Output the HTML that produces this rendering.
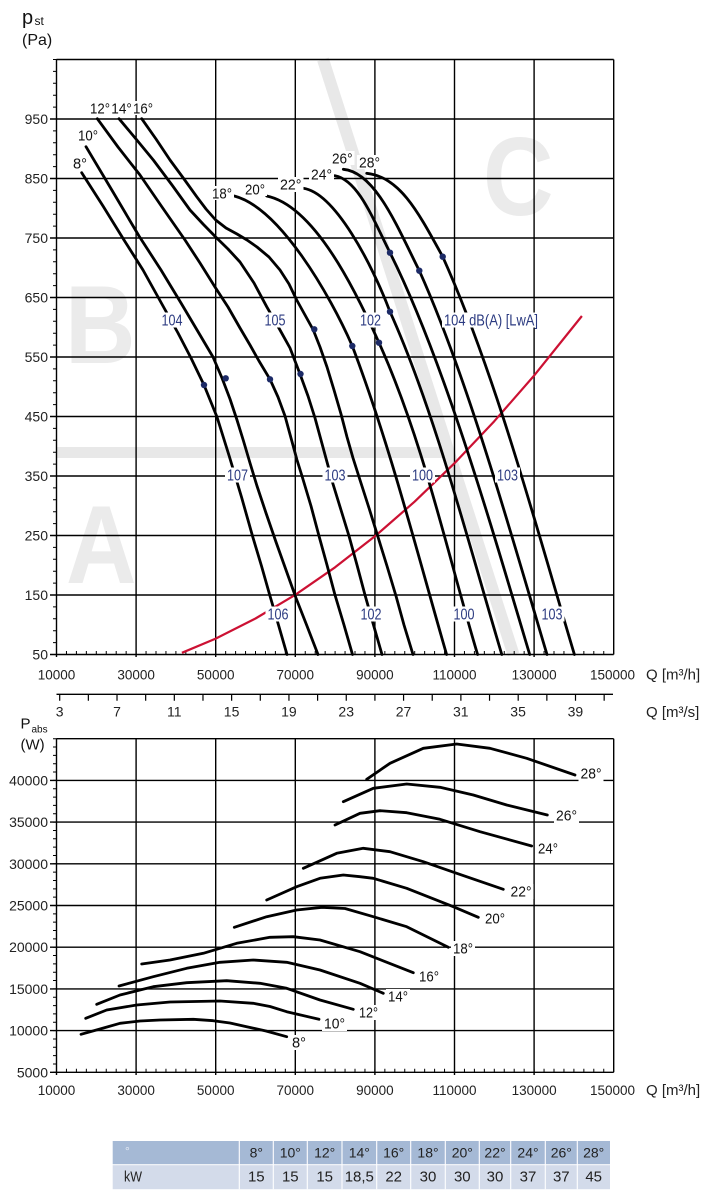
<!DOCTYPE html>
<html><head><meta charset="utf-8">
<style>
html,body{margin:0;padding:0;background:#fff;}
svg{display:block;}
text{font-family:"Liberation Sans",sans-serif;}
</style></head>
<body>
<svg width="716" height="1195" viewBox="0 0 716 1195" xmlns="http://www.w3.org/2000/svg">
<rect x="0" y="0" width="716" height="1195" fill="#fff"/>

<!-- ===== TOP CHART ===== -->
<line x1="323" y1="59.5" x2="513.5" y2="654.5" stroke="#e8e8e8" stroke-width="12"/>
<rect x="56.5" y="447" width="392" height="11" fill="#e8e8e8"/>
<g font-weight="bold" font-size="111" fill="#ebebeb">
<text transform="translate(65,363) scale(0.88,1)">B</text>
<text transform="translate(66,583) scale(0.88,1)">A</text>
<text transform="translate(483,215) scale(0.88,1)">C</text>
</g>

<g stroke="#000" stroke-width="1.4" fill="none">
<path d="M56.5,59.5 V657 M136.1,59.5 V657 M215.7,59.5 V657 M295.3,59.5 V657 M374.9,59.5 V657 M454.5,59.5 V657 M534.1,59.5 V657 M613.7,59.5 V654.5"/>
<path d="M56.5,59.5 H613.7 M50,119 H613.7 M50,178.5 H613.7 M50,238 H613.7 M50,297.5 H613.7 M50,357 H613.7 M50,416.5 H613.7 M50,476 H613.7 M50,535.5 H613.7 M50,595 H613.7 M50,654.5 H613.7"/>
</g>
<path d="M54.75,655 V59" stroke="#000" stroke-width="3.5" stroke-dasharray="1 10.9" fill="none"/>
<path d="M56,652.75 H614" stroke="#000" stroke-width="3.5" stroke-dasharray="1 8.95" fill="none"/>

<path d="M181.9,652.8 L215.7,638.6 L255.5,618.5 L295.3,594.8 L335.1,567.3 L374.9,536.3 L414.7,501.6 L454.5,463.2 L494.3,421.2 L534.1,375.6 L581.9,316" stroke="#cc1133" stroke-width="2.2" fill="none" stroke-linejoin="round"/>

<g stroke="#000" stroke-width="2.8" fill="none" stroke-linejoin="round" stroke-linecap="round">
<path d="M81.7,172.7 L103,206 L124,240 L143,270 L163,306 L178,333 L191,358 L204,385 L217,417 L229.5,457 L241.5,497 L252.5,536 L261.5,566 L270,596 L278.5,625 L287,654.5"/>
<path d="M86,146.7 L113,192 L139,236 L161,270 L181,303 L200,335 L213,357 L222,378 L230,399 L237,420 L243.5,441 L250,463 L257,486 L266,513 L276,542 L286,570 L296,598 L307,626 L318,654.5"/>
<path d="M97.3,118.7 L118,147 L140,175 L162,207 L185,240 L200,263 L215,287 L228,307 L240,328 L250,345 L259,361 L270,379.3 L278,397 L285,416 L291,438 L297,460 L302,476 L311,506 L319,536 L327,565 L335,595 L344,625 L352.5,654.5"/>
<path d="M119,118.7 L136,139 L153.3,160 L172,185 L190,210 L203,224 L215.7,237 L228,249 L240,262 L254,283 L266.7,306.7 L280,330 L290,348 L300,374 L308,396 L315,418 L321,440 L327,462 L333,484 L341,510 L349,536 L357,565 L365,595 L373.5,625 L382,654.5"/>
<path d="M141.7,118.7 L156,139 L170,160 L184,179 L196.7,196.7 L206,209 L215.7,220 L226,228 L237,234 L247,240 L257,247 L269,257 L280,270 L289,284 L296.7,300 L305,315 L313.3,330 L320,347 L327,367 L334,390 L341,414 L347,437 L353,458 L360,480 L369,508 L378,537 L387,566 L396,596 L404,625 L413,654.5"/>
<path d="M234.3,196 C280,208 330,295 352.3,346 C390.3,446 417.6,554.5 446.6,654.5"/>
<path d="M266.7,196 C315,206 356.5,292.7 379,342.7 C424,442.7 447.6,554.5 477.6,654.5"/>
<path d="M303.3,188.3 C335,193 372,264 390,311.7 C435,411.7 468.8,544.5 501.8,654.5"/>
<path d="M335,175.7 C358,180 372.5,217.7 390,252.7 C445,362.7 493.7,534.5 529.7,654.5"/>
<path d="M343.3,169.3 C375,172 396.8,225.7 419.3,270.7 C468.8,380.7 514,544.5 547,654.5"/>
<path d="M366.7,173.3 C400,177 418,211.7 442.7,256.7 C496.7,376.7 538.4,534.5 574.4,654.5"/>
</g>

<g fill="#1c2a66">
<circle cx="204" cy="385" r="3.2"/>
<circle cx="225.7" cy="378.3" r="3.2"/>
<circle cx="270" cy="379.3" r="3.2"/>
<circle cx="300.5" cy="374" r="3.2"/>
<circle cx="314.3" cy="329.3" r="3.2"/>
<circle cx="352.3" cy="346" r="3.2"/>
<circle cx="379" cy="342.7" r="3.2"/>
<circle cx="390" cy="311.7" r="3.2"/>
<circle cx="390" cy="252.7" r="3.2"/>
<circle cx="419.3" cy="270.7" r="3.2"/>
<circle cx="442.7" cy="256.7" r="3.2"/>
</g>

<g fill="#fff">
<rect x="71" y="156" width="18" height="14"/>
<rect x="76" y="128" width="24" height="14"/>
<rect x="88" y="101" width="67" height="14"/>
<rect x="210" y="186" width="24" height="14"/>
<rect x="243" y="182" width="24" height="14"/>
<rect x="278" y="177" width="25.5" height="15"/>
<rect x="309" y="167" width="25" height="15"/>
<rect x="330" y="151" width="24.5" height="14"/>
<rect x="357" y="155" width="25" height="14"/>
</g>
<g font-size="15" fill="#111">
<text x="73" y="168.5" textLength="14" lengthAdjust="spacingAndGlyphs">8°</text>
<text x="78" y="140.5" textLength="20" lengthAdjust="spacingAndGlyphs">10°</text>
<text x="90" y="113.5" textLength="20" lengthAdjust="spacingAndGlyphs">12°</text>
<text x="111.3" y="113.5" textLength="20.5" lengthAdjust="spacingAndGlyphs">14°</text>
<text x="133" y="113.5" textLength="20" lengthAdjust="spacingAndGlyphs">16°</text>
<text x="212" y="198.5" textLength="20" lengthAdjust="spacingAndGlyphs">18°</text>
<text x="245" y="194.5" textLength="20" lengthAdjust="spacingAndGlyphs">20°</text>
<text x="280" y="189.5" textLength="21.5" lengthAdjust="spacingAndGlyphs">22°</text>
<text x="311" y="179.5" textLength="21" lengthAdjust="spacingAndGlyphs">24°</text>
<text x="332" y="163.5" textLength="20.5" lengthAdjust="spacingAndGlyphs">26°</text>
<text x="359" y="167.5" textLength="21" lengthAdjust="spacingAndGlyphs">28°</text>
</g>

<g fill="#fff">
<rect x="159.5" y="312.5" width="25" height="15"/>
<rect x="262.5" y="312.5" width="25" height="15"/>
<rect x="358" y="312.5" width="25" height="15"/>
<rect x="442" y="312.5" width="98" height="15"/>
<rect x="225" y="467.5" width="25" height="15"/>
<rect x="322.5" y="467.5" width="25" height="15"/>
<rect x="410" y="467.5" width="25" height="15"/>
<rect x="495" y="467.5" width="25" height="15"/>
<rect x="265.5" y="606.5" width="25" height="15"/>
<rect x="358.5" y="606.5" width="25" height="15"/>
<rect x="451.5" y="606.5" width="25" height="15"/>
<rect x="539.5" y="606.5" width="25" height="15"/>
</g>
<g font-size="15.5" fill="#2b3a80">
<text x="161.5" y="325.5" textLength="21" lengthAdjust="spacingAndGlyphs">104</text>
<text x="264.5" y="325.5" textLength="21" lengthAdjust="spacingAndGlyphs">105</text>
<text x="360" y="325.5" textLength="21" lengthAdjust="spacingAndGlyphs">102</text>
<text x="444" y="325.5" textLength="94" lengthAdjust="spacingAndGlyphs">104 dB(A) [LwA]</text>
<text x="227" y="480.5" textLength="21" lengthAdjust="spacingAndGlyphs">107</text>
<text x="324.5" y="480.5" textLength="21" lengthAdjust="spacingAndGlyphs">103</text>
<text x="412" y="480.5" textLength="21" lengthAdjust="spacingAndGlyphs">100</text>
<text x="497" y="480.5" textLength="21" lengthAdjust="spacingAndGlyphs">103</text>
<text x="267.5" y="619.5" textLength="21" lengthAdjust="spacingAndGlyphs">106</text>
<text x="360.5" y="619.5" textLength="21" lengthAdjust="spacingAndGlyphs">102</text>
<text x="453.5" y="619.5" textLength="21" lengthAdjust="spacingAndGlyphs">100</text>
<text x="541.5" y="619.5" textLength="21" lengthAdjust="spacingAndGlyphs">103</text>
</g>

<text x="22" y="24" font-size="20" fill="#111">p</text>
<text x="34.5" y="25" font-size="12" fill="#111">st</text>
<text x="22" y="45" font-size="16" fill="#111">(Pa)</text>

<g font-size="14" fill="#222" text-anchor="end">
<text x="48" y="124">950</text>
<text x="48" y="183.5">850</text>
<text x="48" y="243">750</text>
<text x="48" y="302.5">650</text>
<text x="48" y="362">550</text>
<text x="48" y="421.5">450</text>
<text x="48" y="481">350</text>
<text x="48" y="540.5">250</text>
<text x="48" y="600">150</text>
<text x="48" y="659.5">50</text>
</g>
<g font-size="13.5" fill="#222" text-anchor="middle">
<text x="56.5" y="679.5">10000</text>
<text x="136.1" y="679.5">30000</text>
<text x="215.7" y="679.5">50000</text>
<text x="295.3" y="679.5">70000</text>
<text x="374.9" y="679.5">90000</text>
<text x="454.5" y="679.5">110000</text>
<text x="534.1" y="679.5">130000</text>
<text x="612.5" y="679.5">150000</text>
</g>
<text x="646" y="679.5" font-size="15" fill="#222">Q [m³/h]</text>

<path d="M56.5,694.3 H613" stroke="#000" stroke-width="1.4" fill="none"/>
<path d="M59.1,697.5 H606" stroke="#000" stroke-width="6.4" stroke-dasharray="1.2 27.456" fill="none"/>
<g font-size="14" fill="#222" text-anchor="middle">
<text x="59.7" y="716.5">3</text>
<text x="117" y="716.5">7</text>
<text x="174.3" y="716.5">11</text>
<text x="231.6" y="716.5">15</text>
<text x="288.9" y="716.5">19</text>
<text x="346.2" y="716.5">23</text>
<text x="403.5" y="716.5">27</text>
<text x="460.8" y="716.5">31</text>
<text x="518.1" y="716.5">35</text>
<text x="575.4" y="716.5">39</text>
</g>
<text x="646" y="717" font-size="15" fill="#222">Q [m³/s]</text>

<!-- ===== BOTTOM CHART ===== -->
<text x="20.5" y="728.5" font-size="15" fill="#111">P</text>
<text x="31.5" y="732.5" font-size="10" fill="#111">abs</text>
<text x="20.5" y="749.5" font-size="15" fill="#111">(W)</text>

<g stroke="#000" stroke-width="1.4" fill="none">
<path d="M56.5,738.7 V1075 M136.1,738.7 V1075 M215.7,738.7 V1075 M295.3,738.7 V1075 M374.9,738.7 V1075 M454.5,738.7 V1075 M534.1,738.7 V1075 M613.7,738.7 V1072.3"/>
<path d="M56.5,738.7 H613.7 M50,780.4 H613.7 M50,822.1 H613.7 M50,863.8 H613.7 M50,905.5 H613.7 M50,947.2 H613.7 M50,988.9 H613.7 M50,1030.6 H613.7 M50,1072.3 H613.7"/>
</g>
<path d="M54.75,1072.8 V738" stroke="#000" stroke-width="3.5" stroke-dasharray="1 7.34" fill="none"/>
<path d="M56,1070.5 H614" stroke="#000" stroke-width="3.5" stroke-dasharray="1 8.95" fill="none"/>

<g stroke="#000" stroke-width="2.8" fill="none" stroke-linejoin="round" stroke-linecap="round">
<path d="M81,1034.3 L100,1029 L120,1023.3 L140,1021 L160,1020 L193.3,1019.3 L213.3,1020.7 L230,1023 L246.7,1026.7 L266,1031 L286.7,1036.7"/>
<path d="M85.7,1018.3 L106.7,1010 L136.7,1005 L170,1002 L220,1001 L253.3,1003.3 L270,1006.5 L286.7,1011.7 L319,1019.3"/>
<path d="M96.7,1004.3 L120,995 L153.3,986.7 L186.7,982.7 L226.7,980.7 L260,983.3 L286.7,988.3 L320,1000 L353.3,1009.3"/>
<path d="M119,986 L153.3,976.7 L186.7,968.3 L220,962.3 L253.3,960 L286.7,962.3 L320,970 L360,983.3 L383.3,993.3"/>
<path d="M141.7,964 L170,960 L203.3,953.3 L236.7,943.3 L270,937.3 L293.3,936.7 L320,940 L360,951.7 L413.3,972.7"/>
<path d="M234.3,927.3 L266.7,916.7 L296.7,910 L322,907.3 L345,908.5 L373.3,916.7 L406.7,926.7 L448.3,947.3"/>
<path d="M266.7,900 L296.7,886.7 L320,878.3 L343.3,875 L360,876.7 L373.3,878.3 L406.7,888.3 L453.3,906.7 L478.3,917.3"/>
<path d="M303.3,868.3 L336.7,853.3 L363.3,848.3 L390,851.7 L423.3,861.7 L456.7,873.3 L503.3,889.3"/>
<path d="M335,825 L360,813.3 L380,810.7 L406.7,812.7 L440,819.3 L480,831.7 L531.7,846"/>
<path d="M343.3,801.7 L373.3,788.3 L406.7,784 L440,787.3 L473.3,795 L506.7,805 L547.3,815"/>
<path d="M366.7,779.3 L390,763.3 L423.3,748.3 L456.7,744 L490,748.3 L526.7,758.3 L575,775"/>
</g>

<g fill="#fff">
<rect x="290" y="1035" width="18" height="15"/>
<rect x="322" y="1016" width="25" height="15"/>
<rect x="357" y="1005" width="23" height="15"/>
<rect x="386" y="989" width="24" height="15"/>
<rect x="417" y="969" width="24" height="15"/>
<rect x="451" y="941" width="24" height="15"/>
<rect x="483" y="911" width="24" height="15"/>
<rect x="508.5" y="884" width="25" height="15"/>
<rect x="536" y="841" width="24" height="15"/>
<rect x="554" y="808" width="25" height="15"/>
<rect x="578.5" y="766" width="25" height="15.5"/>
</g>
<g font-size="15" fill="#111">
<text x="292" y="1047.5" textLength="14" lengthAdjust="spacingAndGlyphs">8°</text>
<text x="324" y="1028.5" textLength="21" lengthAdjust="spacingAndGlyphs">10°</text>
<text x="359" y="1017.5" textLength="19" lengthAdjust="spacingAndGlyphs">12°</text>
<text x="388" y="1001.5" textLength="20" lengthAdjust="spacingAndGlyphs">14°</text>
<text x="419" y="981.5" textLength="20" lengthAdjust="spacingAndGlyphs">16°</text>
<text x="453" y="953.5" textLength="20" lengthAdjust="spacingAndGlyphs">18°</text>
<text x="485" y="923.5" textLength="20" lengthAdjust="spacingAndGlyphs">20°</text>
<text x="510.5" y="896.5" textLength="21" lengthAdjust="spacingAndGlyphs">22°</text>
<text x="538" y="853.5" textLength="20" lengthAdjust="spacingAndGlyphs">24°</text>
<text x="556" y="820.5" textLength="21" lengthAdjust="spacingAndGlyphs">26°</text>
<text x="580.5" y="778.5" textLength="21" lengthAdjust="spacingAndGlyphs">28°</text>
</g>

<g font-size="14" fill="#222" text-anchor="end">
<text x="48" y="785.4">40000</text>
<text x="48" y="827.1">35000</text>
<text x="48" y="868.8">30000</text>
<text x="48" y="910.5">25000</text>
<text x="48" y="952.2">20000</text>
<text x="48" y="993.9">15000</text>
<text x="48" y="1035.6">10000</text>
<text x="48" y="1077.3">5000</text>
</g>
<g font-size="13.5" fill="#222" text-anchor="middle">
<text x="56.5" y="1095">10000</text>
<text x="136.1" y="1095">30000</text>
<text x="215.7" y="1095">50000</text>
<text x="295.3" y="1095">70000</text>
<text x="374.9" y="1095">90000</text>
<text x="454.5" y="1095">110000</text>
<text x="534.1" y="1095">130000</text>
<text x="612.5" y="1095">150000</text>
</g>
<text x="646" y="1095" font-size="15" fill="#222">Q [m³/h]</text>

<!-- ===== TABLE ===== -->
<rect x="112.7" y="1141" width="497.3" height="23.2" fill="#a5b9d5"/>
<rect x="112.7" y="1165.2" width="497.3" height="24" fill="#d3dbea"/>
<g stroke="#fff" stroke-width="1.1">
<path d="M239.3,1141 V1189.2 M273.3,1141 V1189.2 M307.3,1141 V1189.2 M342,1141 V1189.2 M376.7,1141 V1189.2 M410.7,1141 V1189.2 M445.3,1141 V1189.2 M479.3,1141 V1189.2 M510.7,1141 V1189.2 M545.3,1141 V1189.2 M577.3,1141 V1189.2"/>
</g>
<text x="125" y="1155" font-size="12" fill="#e4eaf3">°</text>
<g font-size="14" fill="#222" text-anchor="middle">
<text x="256.3" y="1157.5">8°</text>
<text x="290.3" y="1157.5">10°</text>
<text x="324.7" y="1157.5">12°</text>
<text x="359.3" y="1157.5">14°</text>
<text x="393.7" y="1157.5">16°</text>
<text x="428" y="1157.5">18°</text>
<text x="462.3" y="1157.5">20°</text>
<text x="495" y="1157.5">22°</text>
<text x="528" y="1157.5">24°</text>
<text x="561.3" y="1157.5">26°</text>
<text x="593.7" y="1157.5">28°</text>
</g>
<text x="124" y="1181.5" font-size="15" fill="#222" textLength="18" lengthAdjust="spacingAndGlyphs">kW</text>
<g font-size="15" fill="#222" text-anchor="middle">
<text x="256.3" y="1181.5">15</text>
<text x="290.3" y="1181.5">15</text>
<text x="324.7" y="1181.5">15</text>
<text x="359.3" y="1181.5">18,5</text>
<text x="393.7" y="1181.5">22</text>
<text x="428" y="1181.5">30</text>
<text x="462.3" y="1181.5">30</text>
<text x="495" y="1181.5">30</text>
<text x="528" y="1181.5">37</text>
<text x="561.3" y="1181.5">37</text>
<text x="593.7" y="1181.5">45</text>
</g>
</svg>
</body></html>
